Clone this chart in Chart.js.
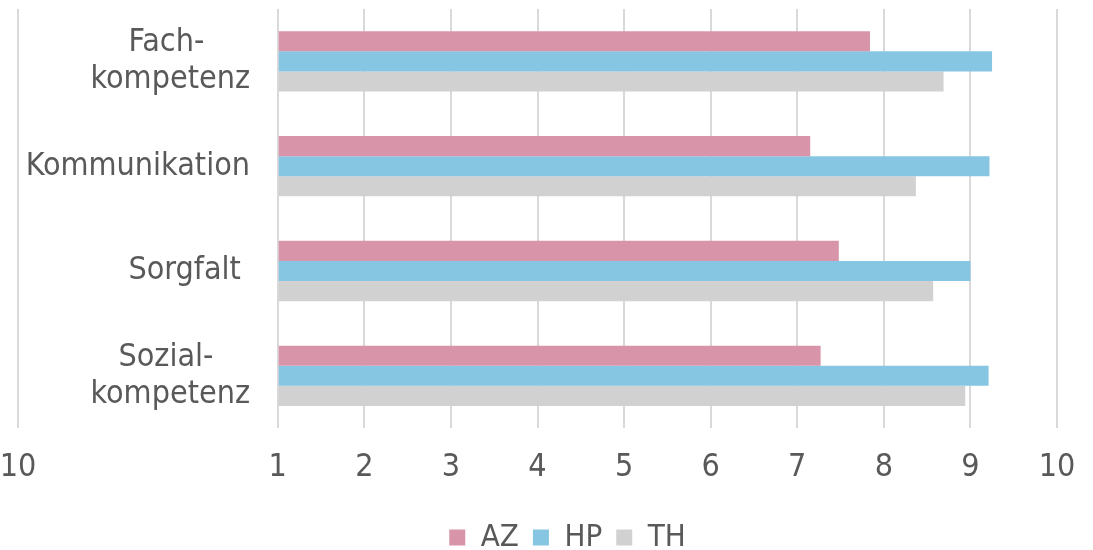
<!DOCTYPE html>
<html>
<head>
<meta charset="utf-8">
<script src="https://cdn.jsdelivr.net/npm/chart.js"></script>
<style>
  html, body { margin: 0; padding: 0; background: #fff; }
  #wrap { width: 1093px; height: 550px; position: relative; }
</style>
</head>
<body>
<div id="wrap"><canvas id="chart"></canvas></div>
<script>
// trailing spaces keep the short first lines centred over "kompetenz" like the original
const categories = [['Fach-\u00a0\u00a0\u00a0\u00a0\u00a0', 'kompetenz'], 'Kommunikation', 'Sorgfalt\u00a0', ['Sozial-\u00a0\u00a0\u00a0\u00a0', 'kompetenz']];
const azValues = [7.84, 7.15, 7.48, 7.27];
const hpValues = [9.25, 9.22, 9.00, 9.21];
const thValues = [8.69, 8.37, 8.57, 8.94];

// the source has a stray "10" gridline on the far left; it sits 3 steps below 1
const xTickValues = [-2, 1, 2, 3, 4, 5, 6, 7, 8, 9, 10];
const xTickLabels = ['10', '1', '2', '3', '4', '5', '6', '7', '8', '9', '10'];

const FONT = "'DejaVu Sans Condensed', 'DejaVu Sans', sans-serif";
const TEXT = '#595959';
const labelFont = { family: FONT, size: 32, lineHeight: 1.15 };

// y labels are drawn inside the plot (mirror), right edge at x=250
const m = document.createElement('canvas').getContext('2d');
m.font = `32px ${FONT}`;
const widest = Math.max(...categories.flat().map(s => m.measureText(s).width));

// legend in the source sits a bit right of centre
const legendShift = {
  id: 'legendShift',
  afterLayout(chart) {
    chart.legend.left += 30;
    chart.legend.right += 30;
  }
};

new Chart(document.getElementById('chart'), {
  type: 'bar',
  data: {
    labels: categories,
    datasets: [
      { label: 'AZ', data: azValues, backgroundColor: '#d895aa', base: 1 },
      { label: 'HP', data: hpValues, backgroundColor: '#86c6e3', base: 1 },
      { label: 'TH', data: thValues, backgroundColor: '#d1d1d1', base: 1 }
    ]
  },
  options: {
    indexAxis: 'y',
    responsive: true,
    maintainAspectRatio: false,
    animation: false,
    layout: { padding: { left: 18, right: 36, top: 9, bottom: -13 } },
    datasets: { bar: { categoryPercentage: 0.575, barPercentage: 1 } },
    scales: {
      x: {
        min: -2, max: 10,
        afterBuildTicks: s => { s.ticks = xTickValues.map(v => ({ value: v })); },
        afterFit: s => { s.paddingLeft = 0; s.paddingRight = 0; },
        grid: { color: '#d9d9d9', lineWidth: 2, drawTicks: false },
        border: { display: false },
        ticks: {
          callback: (v, i) => xTickLabels[i],
          font: labelFont, color: TEXT, padding: 21.5,
          autoSkip: false, maxRotation: 0
        }
      },
      y: {
        grid: { display: false },
        border: { display: false },
        afterFit: s => { s.width = 0; s.paddingTop = 0; s.paddingBottom = 0; },
        ticks: {
          mirror: true, crossAlign: 'far',
          padding: 232 - widest,
          font: labelFont, color: TEXT
        }
      }
    },
    plugins: {
      legend: {
        position: 'bottom',
        labels: { boxWidth: 16, boxHeight: 16, padding: 14, color: TEXT, font: { family: FONT, size: 31 } }
      },
      tooltip: { enabled: false }
    }
  },
  plugins: [legendShift]
});
</script>
</body>
</html>
